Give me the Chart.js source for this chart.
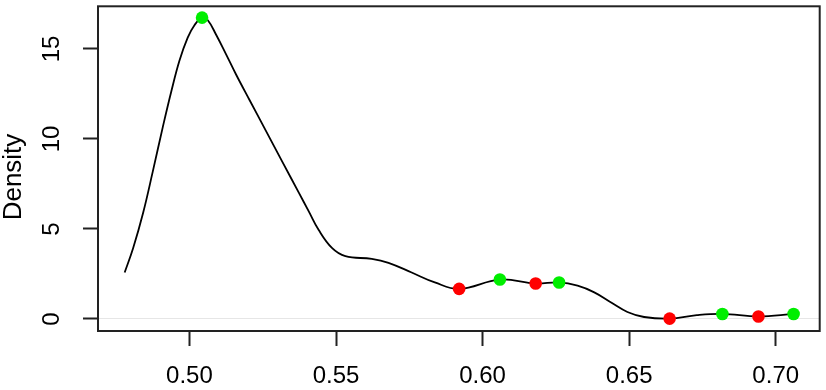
<!DOCTYPE html>
<html>
<head>
<meta charset="utf-8">
<script src="https://cdn.jsdelivr.net/npm/chart.js@4/dist/chart.umd.min.js"></script>
<style>
  html, body { margin: 0; padding: 0; background: #fff; }
  #wrap { width: 826px; height: 390px; }
</style>
</head>
<body>
<div id="wrap"><canvas id="chart-density" width="826" height="390"></canvas></div>
<script>
// density curve
const densX = [0.4779, 0.4808, 0.4842, 0.4875, 0.4909, 0.4938, 0.4966, 0.4994, 0.5017, 0.5043,
  0.5062, 0.5091, 0.5125, 0.5159, 0.5204, 0.5260, 0.5317, 0.5373, 0.5407, 0.5441,
  0.5486, 0.5532, 0.5622, 0.5679, 0.5758, 0.5837, 0.5920, 0.6059, 0.6181, 0.6261,
  0.6324, 0.6381, 0.6437, 0.6494, 0.6551, 0.6638, 0.6731, 0.6818, 0.6941, 0.7061];
const densY = [2.58, 3.94, 5.90, 8.20, 10.66, 12.64, 14.36, 15.63, 16.32, 16.74,
  16.61, 15.79, 14.70, 13.58, 12.19, 10.48, 8.73, 7.02, 5.98, 4.94,
  3.95, 3.49, 3.34, 3.12, 2.58, 2.03, 1.67, 2.19, 1.97, 2.03,
  1.85, 1.48, 0.93, 0.39, 0.11, 0.02, 0.21, 0.28, 0.14, 0.28];

// marked points
const redX = [0.5920, 0.6181, 0.6638, 0.6941];
const redY = [1.67, 1.97, 0.02, 0.14];
const greenX = [0.5043, 0.6059, 0.6261, 0.6818, 0.7061];
const greenY = [16.74, 2.19, 2.03, 0.28, 0.28];

// axes
const xTicks = [0.50, 0.55, 0.60, 0.65, 0.70];
const yTicks = [0, 5, 10, 15];
const yTitle = "Density";

const FONT = "'Liberation Sans', Arial, Helvetica, sans-serif";

const toXY = (xs, ys) => xs.map((x, i) => ({ x: x, y: ys[i] }));

// box around the plot + y label
const boxPlugin = {
  id: "box",
  afterDraw(chart) {
    const { ctx, chartArea: a } = chart;
    ctx.save();
    ctx.strokeStyle = "#222";
    ctx.lineWidth = 2;
    ctx.strokeRect(a.left, a.top, a.right - a.left, a.bottom - a.top);
    ctx.translate(14, 177);
    ctx.rotate(-Math.PI / 2);
    ctx.fillStyle = "#000";
    ctx.font = "26px " + FONT;
    ctx.textAlign = "center";
    ctx.textBaseline = "middle";
    ctx.fillText(yTitle, 0, 0);
    ctx.restore();
  },
};

const ctxDensity = document.getElementById("chart-density");
new Chart(ctxDensity, {
  type: "scatter",
  data: {
    datasets: [
      {
        data: toXY(densX, densY),
        showLine: true,
        borderColor: "#000",
        borderWidth: 1.8,
        pointRadius: 0,
        tension: 0.4,
        order: 2,
      },
      {
        data: toXY(redX, redY),
        pointRadius: 6.3,
        pointBackgroundColor: "#ff0000",
        pointBorderWidth: 0,
        order: 1,
      },
      {
        data: toXY(greenX, greenY),
        pointRadius: 6.3,
        pointBackgroundColor: "#00ee00",
        pointBorderWidth: 0,
        order: 1,
      },
    ],
  },
  options: {
    responsive: false,
    animation: false,
    layout: { padding: { top: 1, right: 3, left: 0, bottom: 0 } },
    plugins: { legend: { display: false }, tooltip: { enabled: false } },
    scales: {
      x: {
        type: "linear",
        min: 0.4688,
        max: 0.7150,
        afterBuildTicks: (s) => { s.ticks = xTicks.map((v) => ({ value: v })); },
        afterFit: (s) => { s.height = 59; s.paddingLeft = 0; s.paddingRight = 0; },
        border: { display: false },
        grid: { drawOnChartArea: false, tickLength: 15, tickColor: "#222", tickWidth: 2 },
        ticks: {
          color: "#000",
          font: { family: FONT, size: 24 },
          padding: 16,
          maxRotation: 0,
          callback: (v) => v.toFixed(2),
        },
      },
      y: {
        type: "linear",
        min: -0.668,
        max: 17.37,
        afterBuildTicks: (s) => { s.ticks = yTicks.map((v) => ({ value: v })); },
        afterFit: (s) => { s.width = 98; s.paddingTop = 0; s.paddingBottom = 0; },
        border: { display: false },
        grid: {
          tickLength: 15,
          tickColor: "#222",
          tickWidth: 2,
          lineWidth: 1,
          color: (c) => (c.tick && c.tick.value === 0 ? "#e6e6e6" : "rgba(0,0,0,0)"),
        },
        ticks: {
          color: "#000",
          font: { family: FONT, size: 24 },
          minRotation: 90,
          maxRotation: 90,
          crossAlign: "center",
          padding: 17,
          callback: (v) => String(v),
        },
      },
    },
  },
  plugins: [boxPlugin],
});
</script>
</body>
</html>
